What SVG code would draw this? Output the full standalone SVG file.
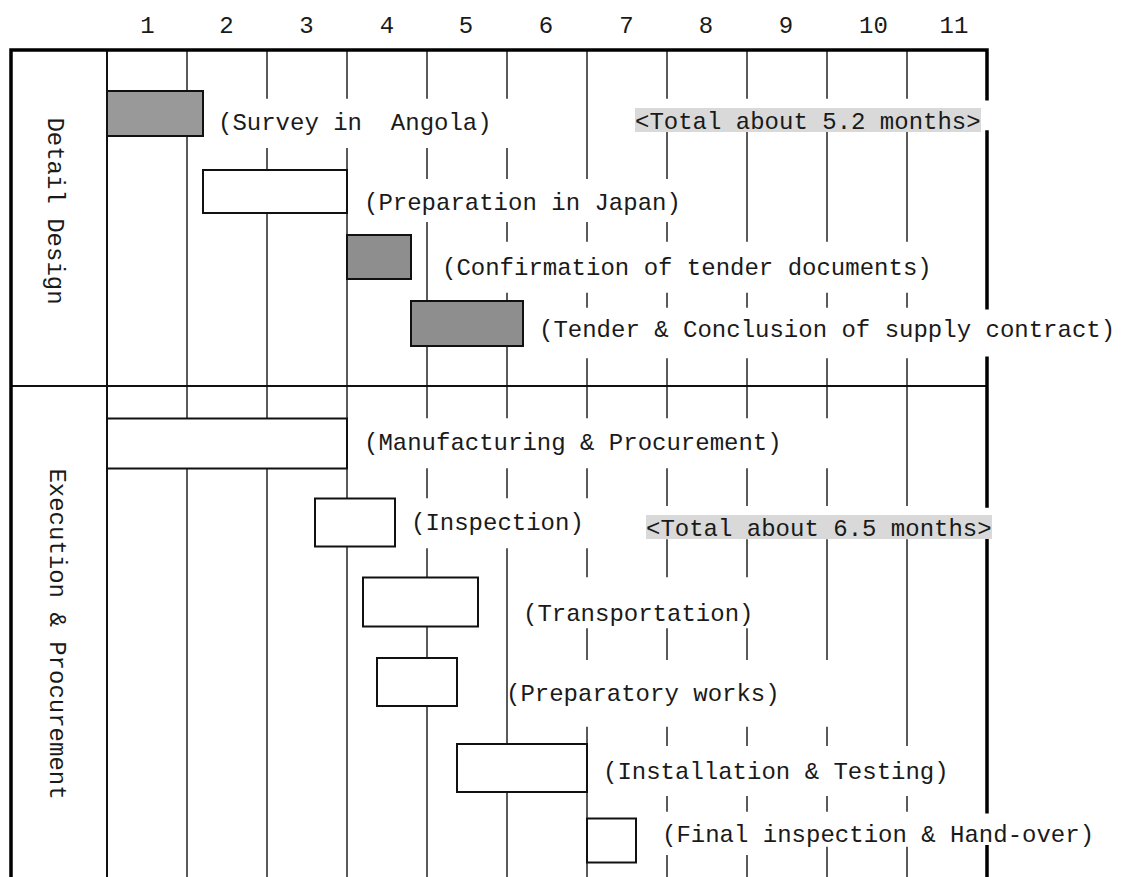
<svg xmlns="http://www.w3.org/2000/svg" width="1130" height="877" viewBox="0 0 1130 877">
  <style>
    .t { font-family: "Liberation Mono", "DejaVu Sans Mono", monospace; font-size: 24px; fill: #1a1a1a; white-space: pre; }
    .grid { fill: none; stroke: #5a5a5a; stroke-width: 2; }
    .frame { fill: none; stroke: #000; stroke-width: 3.5; stroke-linejoin: miter; stroke-linecap: square; }
    .rule { fill: none; stroke: #111; stroke-width: 2; }
    .bar { stroke: #111; stroke-width: 2; }
    .open { fill: #fff; }
    .shaded { fill: #999; }
    .shaded2 { fill: #8e8e8e; }
    .hl { fill: #d9d9d9; }
  </style>

  <rect width="1130" height="877" fill="#fff"/>

  <!-- month numbers -->
  <g id="months" class="t" text-anchor="middle">
    <text x="147.5" y="33">1</text>
    <text x="226.5" y="33">2</text>
    <text x="306.5" y="33">3</text>
    <text x="387" y="33">4</text>
    <text x="466" y="33">5</text>
    <text x="546" y="33">6</text>
    <text x="626.5" y="33">7</text>
    <text x="706" y="33">8</text>
    <text x="786" y="33">9</text>
    <text x="873.5" y="33">10</text>
    <text x="954" y="33">11</text>
  </g>

  <!-- month grid, interrupted where labels sit -->
  <g id="connectors">
    <path class="grid" d="M187 50 V877
      M267 50 V98.7 M267 148 V877
      M347 50 V98.7 M347 148 V877
      M427 50 V98.7 M427 148 V179 M427 222 V418.3 M427 468.3 V498.3 M427 548.3 V877
      M507 50 V98.7 M507 148 V179 M507 222 V241.7 M507 292.7 V418.3 M507 468.3 V498.3 M507 548.3 V877
      M587 50 V179 M587 222 V241.7 M587 292.7 V307.7 M587 358.3 V418.3 M587 468.3 V498.3 M587 548.3 V577.3 M587 628.3 V660 M587 726.7 V877
      M667 50 V98.7 M667 132 V179 M667 222 V241.7 M667 292.7 V307.7 M667 358.3 V418.3 M667 468.3 V506 M667 539.3 V577.3 M667 628.3 V660 M667 726.7 V746 M667 796 V811.7 M667 855 V877
      M747 50 V98.7 M747 132 V241.7 M747 292.7 V307.7 M747 358.3 V418.3 M747 468.3 V506 M747 539.3 V577.3 M747 628.3 V660 M747 726.7 V746 M747 796 V811.7 M747 855 V877
      M827 50 V98.7 M827 132 V241.7 M827 292.7 V307.7 M827 358.3 V418.3 M827 468.3 V506 M827 539.3 V660 M827 726.7 V746 M827 796 V811.7 M827 846.7 V877
      M907 50 V98.7 M907 132 V241.7 M907 292.7 V307.7 M907 358.3 V506 M907 539.3 V746 M907 796 V811.7 M907 846.7 V877"/>
    <path class="rule" d="M107 50 V877 M11 386 H987"/>
    <path class="frame" d="M11 877 V50 H987 V98.7 M987 132 V307.7 M987 358.3 V506 M987 539.3 V811.7 M987 846.7 V877"/>
  </g>

  <!-- phase captions -->
  <g id="phase-detail">
    <text class="t" text-anchor="middle" transform="translate(47.5 211) rotate(90)">Detail Design</text>
  </g>
  <g id="phase-execution">
    <text class="t" text-anchor="middle" transform="translate(50 634) rotate(90)">Execution &amp; Procurement</text>
  </g>

  <!-- detail design tasks -->
  <g id="survey">
    <rect class="bar shaded" x="107" y="91" width="96" height="45"/>
    <text class="t" x="218" y="130">(Survey in  Angola)</text>
  </g>
  <g id="total-detail">
    <rect class="hl" x="635" y="108" width="346" height="24"/>
    <text class="t" x="635" y="129">&lt;Total about 5.2 months&gt;</text>
  </g>
  <g id="preparation">
    <rect class="bar open" x="203" y="170" width="144" height="43"/>
    <text class="t" x="364" y="210">(Preparation in Japan)</text>
  </g>
  <g id="confirmation">
    <rect class="bar shaded2" x="347" y="235" width="64" height="44"/>
    <text class="t" x="442" y="275">(Confirmation of tender documents)</text>
  </g>
  <g id="tender">
    <rect class="bar shaded2" x="411" y="301" width="112" height="45"/>
    <text class="t" x="539" y="337">(Tender &amp; Conclusion of supply contract)</text>
  </g>

  <!-- execution tasks -->
  <g id="manufacturing">
    <rect class="bar open" x="107" y="418.5" width="240" height="50"/>
    <text class="t" x="364" y="450">(Manufacturing &amp; Procurement)</text>
  </g>
  <g id="inspection">
    <rect class="bar open" x="315" y="498.5" width="80" height="48"/>
    <text class="t" x="411" y="530">(Inspection)</text>
  </g>
  <g id="total-execution">
    <rect class="hl" x="646" y="515" width="346" height="24"/>
    <text class="t" x="646" y="536">&lt;Total about 6.5 months&gt;</text>
  </g>
  <g id="transportation">
    <rect class="bar open" x="363" y="577.5" width="115" height="49"/>
    <text class="t" x="523" y="621">(Transportation)</text>
  </g>
  <g id="preparatory">
    <rect class="bar open" x="377" y="658" width="80" height="48"/>
    <text class="t" x="506" y="701">(Preparatory works)</text>
  </g>
  <g id="installation">
    <rect class="bar open" x="457" y="744" width="130" height="48"/>
    <text class="t" x="603" y="779">(Installation &amp; Testing)</text>
  </g>
  <g id="final-inspection">
    <rect class="bar open" x="587" y="818.5" width="49" height="44"/>
    <text class="t" x="662" y="842">(Final inspection &amp; Hand-over)</text>
  </g>
</svg>
